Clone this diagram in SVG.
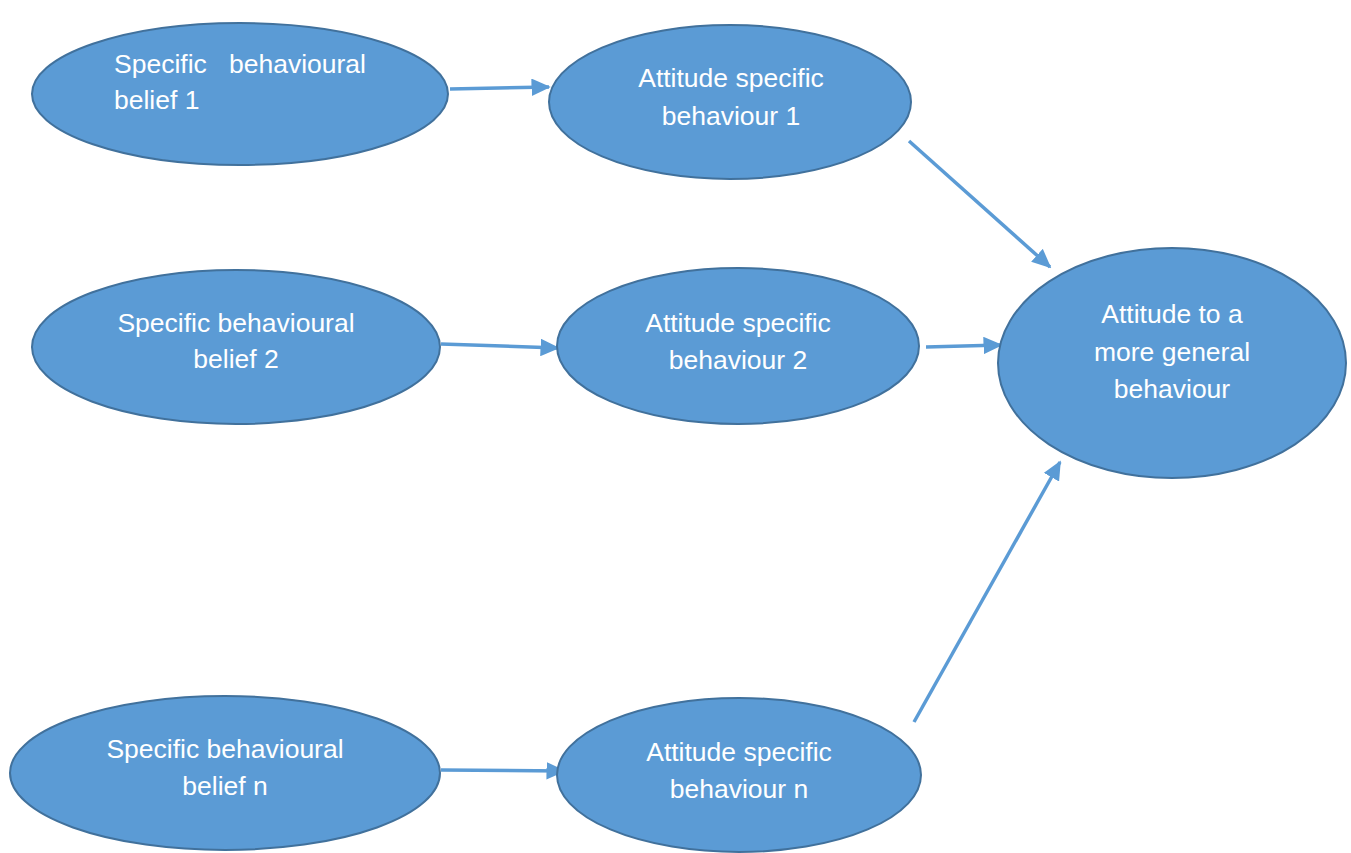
<svg xmlns="http://www.w3.org/2000/svg" width="1351" height="853" viewBox="0 0 1351 853">
<style>
.n{fill:#5B9BD5;stroke:#41719C;stroke-width:2}
.t{fill:#fff;font-family:"Liberation Sans",Arial,sans-serif;font-size:26.5px;text-anchor:middle}
.c{stroke:#5B9BD5;stroke-width:3.5;fill:none;marker-end:url(#ah)}
</style>
<defs>
<marker id="ah" markerWidth="5.5" markerHeight="5" refX="5" refY="2.5" orient="auto" markerUnits="strokeWidth">
<path d="M0,0 L5.5,2.5 L0,5 Z" fill="#5B9BD5"/>
</marker>
</defs>
<rect width="1351" height="853" fill="#fff"/>
<g id="connectors">
<line class="c" x1="450" y1="89" x2="549" y2="87"/>
<line class="c" x1="909" y1="141" x2="1050" y2="267"/>
<line class="c" x1="441" y1="344" x2="558" y2="348"/>
<line class="c" x1="926" y1="347" x2="1001" y2="345"/>
<line class="c" x1="441" y1="770" x2="564" y2="771"/>
<line class="c" x1="914" y1="722" x2="1060" y2="462"/>
</g>
<g id="belief1">
<ellipse class="n" cx="240" cy="94" rx="208" ry="71"/>
<text class="t" x="114" y="73" style="text-anchor:start">Specific</text>
<text class="t" x="366" y="73" style="text-anchor:end">behavioural</text>
<text class="t" x="114" y="109" style="text-anchor:start">belief 1</text>
</g>
<g id="attitude1">
<ellipse class="n" cx="730" cy="102" rx="181" ry="77"/>
<text class="t" x="731" y="87">Attitude specific</text>
<text class="t" x="731" y="125">behaviour 1</text>
</g>
<g id="belief2">
<ellipse class="n" cx="236" cy="347" rx="204" ry="77"/>
<text class="t" x="236" y="332">Specific behavioural</text>
<text class="t" x="236" y="368">belief 2</text>
</g>
<g id="attitude2">
<ellipse class="n" cx="738" cy="346" rx="181" ry="78"/>
<text class="t" x="738" y="332">Attitude specific</text>
<text class="t" x="738" y="369">behaviour 2</text>
</g>
<g id="general">
<ellipse class="n" cx="1172" cy="363" rx="174" ry="115"/>
<text class="t" x="1172" y="323">Attitude to a</text>
<text class="t" x="1172" y="361">more general</text>
<text class="t" x="1172" y="398">behaviour</text>
</g>
<g id="beliefn">
<ellipse class="n" cx="225" cy="773" rx="215" ry="77"/>
<text class="t" x="225" y="758">Specific behavioural</text>
<text class="t" x="225" y="795">belief n</text>
</g>
<g id="attituden">
<ellipse class="n" cx="739" cy="775" rx="182" ry="77"/>
<text class="t" x="739" y="761">Attitude specific</text>
<text class="t" x="739" y="798">behaviour n</text>
</g>
</svg>
